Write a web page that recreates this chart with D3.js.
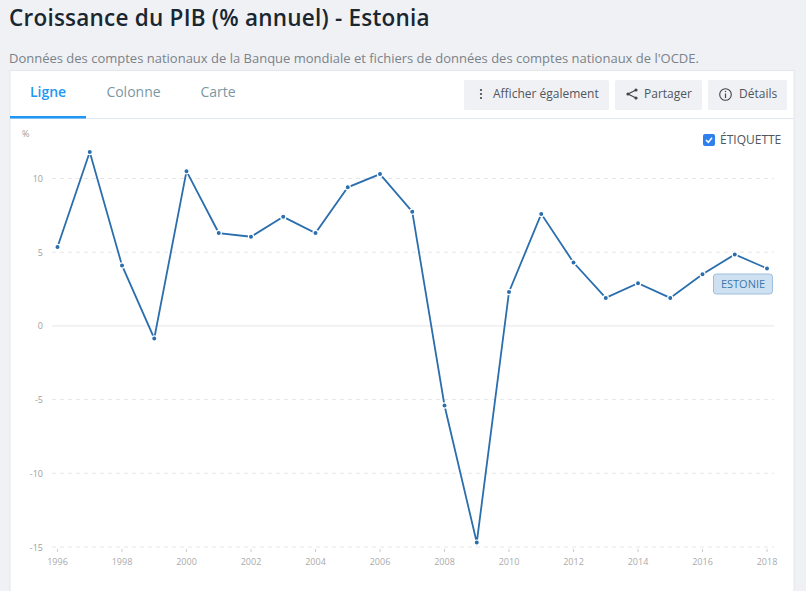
<!DOCTYPE html>
<html><head><meta charset="utf-8">
<script src="https://cdn.jsdelivr.net/npm/d3@7"></script>
<style>html,body{margin:0;padding:0;background:#eff1f5;overflow:hidden}svg{display:block}text{font-family:"Open Sans",sans-serif}</style>
</head><body><svg id="c" width="806" height="591"></svg>
<script>
const years=[1996,1997,1998,1999,2000,2001,2002,2003,2004,2005,2006,2007,2008,2009,2010,2011,2012,2013,2014,2015,2016,2017,2018];
const growth=[5.35,11.8,4.1,-0.85,10.5,6.3,6.05,7.4,6.3,9.4,10.3,7.75,-5.4,-14.7,2.3,7.6,4.3,1.9,2.9,1.9,3.5,4.85,3.9];
const yTicks=[10,5,0,-5,-10,-15];
const xTicks=[1996,1998,2000,2002,2004,2006,2008,2010,2012,2014,2016,2018];
const title="Croissance du PIB (% annuel) - Estonia";
const subtitle="Données des comptes nationaux de la Banque mondiale et fichiers de données des comptes nationaux de l'OCDE.";
const tabs=["Ligne","Colonne","Carte"];
const seriesLabel="ESTONIE";

const svg=d3.select("#c");
const x=d3.scaleLinear().domain([1996,2018]).range([57.5,767]);
const y=d3.scaleLinear().domain([10,-15]).range([178.5,547]);
const T=(s,px,py,size,fill,o={})=>svg.append("text").attr("x",px).attr("y",py).attr("font-size",size).attr("fill",fill).attr("font-weight",o.w||400).attr("text-anchor",o.a||"start").text(s);

T(title,9,26,22.5,"#1a2630",{w:600}).attr("letter-spacing",0.23);
T(subtitle,9,63,13,"#7b8288");

svg.append("rect").attr("x",10).attr("y",70.5).attr("width",784).attr("height",530).attr("fill","#fff").attr("stroke","#e3e6ea");
svg.append("line").attr("x1",10).attr("x2",794).attr("y1",118.5).attr("y2",118.5).attr("stroke","#e3e8ee");
svg.append("rect").attr("x",10).attr("y",116).attr("width",76).attr("height",2.5).attr("fill","#2196f3");
T(tabs[0],48,97,14,"#2196f3",{a:"middle",w:600});
T(tabs[1],133.5,97,14,"#7a97a6",{a:"middle"});
T(tabs[2],218,97,14,"#7a97a6",{a:"middle"});

[[464,145],[615,87],[708,79]].forEach(b=>svg.append("rect").attr("x",b[0]).attr("y",80).attr("width",b[1]).attr("height",30).attr("rx",1.5).attr("fill","#eff1f5"));
T("Afficher également",493,98,12,"#4f565c");
T("Partager",644,98,12,"#4f565c");
T("Détails",739,98,12,"#4f565c");
[90,94,98].forEach(cy=>svg.append("circle").attr("cx",481).attr("cy",cy).attr("r",1.1).attr("fill","#444"));
svg.append("path").attr("d","M636 90L628 94L636 98").attr("fill","none").attr("stroke","#444").attr("stroke-width",1.2);
[[636,90],[628,94],[636,98]].forEach(p=>svg.append("circle").attr("cx",p[0]).attr("cy",p[1]).attr("r",1.6).attr("fill","#444"));
svg.append("circle").attr("cx",725.5).attr("cy",94.5).attr("r",5.8).attr("fill","none").attr("stroke","#444").attr("stroke-width",1.1);
svg.append("line").attr("x1",725.5).attr("x2",725.5).attr("y1",93.5).attr("y2",98).attr("stroke","#444").attr("stroke-width",1.2);
svg.append("circle").attr("cx",725.5).attr("cy",91.5).attr("r",0.7).attr("fill","#444");

svg.append("rect").attr("x",703).attr("y",134).attr("width",12).attr("height",12).attr("rx",2).attr("fill","#2f80ed");
svg.append("path").attr("d","M706 140L708.3 142.3L712 137.8").attr("fill","none").attr("stroke","#fff").attr("stroke-width",1.5);
T("ÉTIQUETTE",720,144,12,"#4f565c");
T("%",22,137,9,"#9a9fa3");

const g=svg.append("g");
yTicks.forEach(t=>{
  g.append("line").attr("x1",52).attr("x2",774).attr("y1",y(t)).attr("y2",y(t))
   .attr("stroke","#e6e6e6").attr("stroke-dasharray",t===0?null:"4,4");
  T(t,43,y(t)+3.5,9,"#a0a0a0",{a:"end"});
});
xTicks.forEach(t=>{
  g.append("line").attr("x1",x(t)).attr("x2",x(t)).attr("y1",549).attr("y2",552).attr("stroke","#ccc");
  T(t,x(t),565,9,"#aaaaaa",{a:"middle"});
});

const data=years.map((yr,i)=>({yr,v:growth[i]}));
svg.append("path").datum(data).attr("fill","none").attr("stroke","#2a6ead").attr("stroke-width",1.8)
  .attr("d",d3.line().x(d=>x(d.yr)).y(d=>y(d.v)));
svg.selectAll(".pt").data(data).join("circle").attr("class","pt")
  .attr("cx",d=>x(d.yr)).attr("cy",d=>y(d.v)).attr("r",2.6).attr("fill","#2a6ead").attr("stroke","#fff").attr("stroke-width",1.2);

svg.append("rect").attr("x",713.5).attr("y",274).attr("width",59).attr("height",20).attr("rx",3).attr("fill","#cfe1f1").attr("stroke","#9cc0dd");
T(seriesLabel,743,288,11,"#3b78ad",{a:"middle"});
</script></body></html>
